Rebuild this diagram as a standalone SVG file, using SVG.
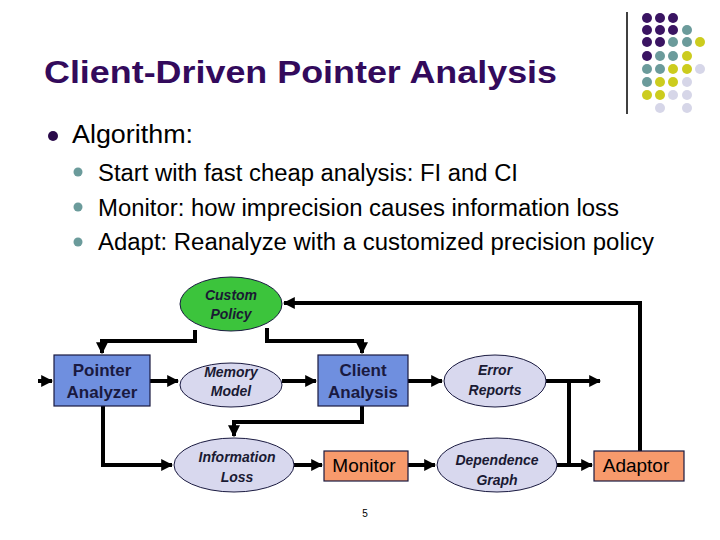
<svg xmlns="http://www.w3.org/2000/svg" width="720" height="540" viewBox="0 0 720 540">
<defs>
<style>
.t{font-family:"Liberation Sans",Arial,sans-serif}
.title{font-size:31px;font-weight:bold;fill:#330a5c}
.b1{font-size:25px;fill:#000}
.b2{font-size:23px;fill:#000}
.ell{stroke:#1a1a40;stroke-width:1}
.box{stroke:#1a1a40;stroke-width:1.2}
.nt{font-size:17px;font-weight:bold;fill:#1a1a40;text-anchor:middle}
.et{font-size:14px;font-weight:bold;font-style:italic;fill:#1a1a33;text-anchor:middle}
.ot{font-size:19px;fill:#000;text-anchor:middle}
.c{fill:none;stroke:#000;stroke-width:4}
.p{fill:#3a1462}.g{fill:#6b9b9b}.y{fill:#cccc1e}.l{fill:#d6d6e8}
</style>
<marker id="ah" viewBox="0 0 10 10" refX="9" refY="5" markerWidth="3" markerHeight="3" markerUnits="strokeWidth" orient="auto">
<path d="M0,0 L10,5 L0,10 z" fill="#000"/>
</marker>
</defs>
<rect width="720" height="540" fill="#fff"/>

<g id="decor">
<line x1="627" y1="12" x2="627" y2="114" stroke="#000" stroke-width="1.5"/>
<g>
<circle class="p" cx="647" cy="18" r="5"/><circle class="p" cx="660" cy="18" r="5"/><circle class="p" cx="673" cy="18" r="5"/>
<circle class="p" cx="647" cy="30" r="5"/><circle class="p" cx="660" cy="30" r="5"/><circle class="p" cx="673" cy="30" r="5"/><circle class="g" cx="687" cy="30" r="5"/>
<circle class="p" cx="647" cy="42" r="5"/><circle class="p" cx="660" cy="42" r="5"/><circle class="g" cx="673" cy="42" r="5"/><circle class="g" cx="687" cy="42" r="5"/><circle class="y" cx="700" cy="42" r="5"/>
<circle class="p" cx="647" cy="56" r="5"/><circle class="g" cx="660" cy="56" r="5"/><circle class="g" cx="673" cy="56" r="5"/><circle class="y" cx="687" cy="56" r="5"/>
<circle class="g" cx="647" cy="69" r="5"/><circle class="g" cx="660" cy="69" r="5"/><circle class="y" cx="673" cy="69" r="5"/><circle class="y" cx="687" cy="69" r="5"/><circle class="l" cx="700" cy="69" r="5"/>
<circle class="g" cx="647" cy="82" r="5"/><circle class="y" cx="660" cy="82" r="5"/><circle class="y" cx="673" cy="82" r="5"/><circle class="l" cx="687" cy="82" r="5"/>
<circle class="y" cx="647" cy="95" r="5"/><circle class="y" cx="660" cy="95" r="5"/><circle class="l" cx="673" cy="95" r="5"/><circle class="l" cx="687" cy="95" r="5"/>
<circle class="l" cx="660" cy="108" r="5"/><circle class="l" cx="687" cy="108" r="5"/>
</g>
</g>

<g id="text">
<text class="t title" x="44" y="83" textLength="513" lengthAdjust="spacingAndGlyphs">Client-Driven Pointer Analysis</text>
<circle cx="53" cy="136" r="5" fill="#2a0a4a"/>
<text class="t b1" x="72" y="143" textLength="121" lengthAdjust="spacingAndGlyphs">Algorithm:</text>
<circle cx="78" cy="172" r="4.5" fill="#6b9b9b"/>
<circle cx="78" cy="207" r="4.5" fill="#6b9b9b"/>
<circle cx="78" cy="242" r="4.5" fill="#6b9b9b"/>
<text class="t b2" x="98" y="181" textLength="420" lengthAdjust="spacingAndGlyphs">Start with fast cheap analysis: FI and CI</text>
<text class="t b2" x="98" y="216" textLength="521" lengthAdjust="spacingAndGlyphs">Monitor: how imprecision causes information loss</text>
<text class="t b2" x="98" y="250" textLength="556" lengthAdjust="spacingAndGlyphs">Adapt: Reanalyze with a customized precision policy</text>
<text class="t" x="365" y="517" font-size="10" text-anchor="middle">5</text>
</g>

<g id="connectors">
<path class="c" d="M38,381 H52" marker-end="url(#ah)"/>
<path class="c" d="M195,330 V341 H102 V353" marker-end="url(#ah)"/>
<path class="c" d="M267,328 V341 H362 V353" marker-end="url(#ah)"/>
<path class="c" d="M640,451 V303 H284" marker-end="url(#ah)"/>
<path class="c" d="M150,381 H178" marker-end="url(#ah)"/>
<path class="c" d="M282,381 H316" marker-end="url(#ah)"/>
<path class="c" d="M408,381 H442" marker-end="url(#ah)"/>
<path class="c" d="M546,381 H600" marker-end="url(#ah)"/>
<path class="c" d="M569,381 V465"/>
<path class="c" d="M557,465 H592" marker-end="url(#ah)"/>
<path class="c" d="M103,406 V465 H172" marker-end="url(#ah)"/>
<path class="c" d="M362,406 V422 H234 V436" marker-end="url(#ah)"/>
<path class="c" d="M294,465 H322" marker-end="url(#ah)"/>
<path class="c" d="M408,465 H435" marker-end="url(#ah)"/>
</g>

<g id="custom-policy">
<ellipse class="ell" cx="231" cy="304" rx="51" ry="27" fill="#3cc43c"/>
<text class="t et" x="231" y="300">Custom</text>
<text class="t et" x="231" y="319">Policy</text>
</g>
<g id="pointer-analyzer">
<rect class="box" x="54" y="355" width="96" height="51" fill="#6f8fdf"/>
<text class="t nt" x="102" y="376">Pointer</text>
<text class="t nt" x="102" y="398">Analyzer</text>
</g>
<g id="memory-model">
<ellipse class="ell" cx="231" cy="385" rx="51" ry="22" fill="#d8d8ee"/>
<text class="t et" x="231" y="377">Memory</text>
<text class="t et" x="231" y="396">Model</text>
</g>
<g id="client-analysis">
<rect class="box" x="318" y="355" width="90" height="51" fill="#6f8fdf"/>
<text class="t nt" x="363" y="376">Client</text>
<text class="t nt" x="363" y="398">Analysis</text>
</g>
<g id="error-reports">
<ellipse class="ell" cx="495" cy="381" rx="51" ry="26" fill="#d8d8ee"/>
<text class="t et" x="495" y="375">Error</text>
<text class="t et" x="495" y="395">Reports</text>
</g>
<g id="information-loss">
<ellipse class="ell" cx="234" cy="465" rx="60" ry="27" fill="#d8d8ee"/>
<text class="t et" x="237" y="462">Information</text>
<text class="t et" x="237" y="482">Loss</text>
</g>
<g id="monitor">
<rect class="box" x="324" y="451" width="84" height="30" fill="#f79a6c"/>
<text class="t ot" x="364" y="472">Monitor</text>
</g>
<g id="dependence-graph">
<ellipse class="ell" cx="497" cy="465" rx="60" ry="27" fill="#d8d8ee"/>
<text class="t et" x="497" y="465">Dependence</text>
<text class="t et" x="497" y="485">Graph</text>
</g>
<g id="adaptor">
<rect class="box" x="594" y="451" width="90" height="30" fill="#f79a6c"/>
<text class="t ot" x="636" y="472">Adaptor</text>
</g>
</svg>
